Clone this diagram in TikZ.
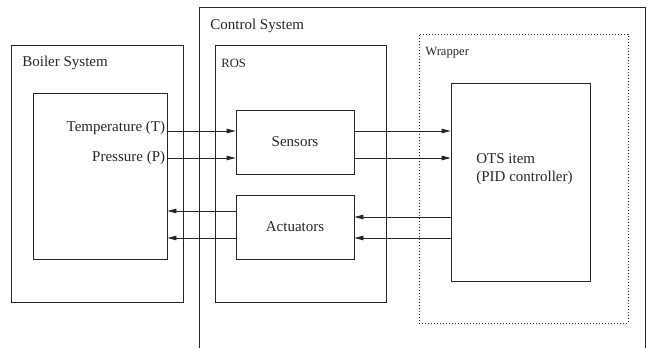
\documentclass[tikz,border=0pt]{standalone}
\usepackage{fontspec}
\setmainfont{Liberation Serif}
\usetikzlibrary{arrows.meta}

\tikzset{
  blk/.style={draw, inner sep=0pt},
  lbl/.style={inner sep=0pt, font=\fontsize{15}{17.5}\selectfont},
  smalllbl/.style={inner sep=0pt, font=\fontsize{12.6}{14}\selectfont},
  sig/.style={-{Triangle[length=9pt,width=4.5pt]}}
}

\begin{document}
\begin{tikzpicture}[x=1pt,y=-1pt,line width=0.8pt,color=black!85]
\useasboundingbox (0,0) rectangle (650,348);
% frame of the control system, open at the bottom
\draw (199,348) -- (199,7.5) -- (645,7.5) -- (645,348);
\node[lbl, anchor=base west] (ctrllbl) at (210,29) {Control System};

% boiler side
\node[blk, minimum width=172pt, minimum height=257pt] (boiler) at (97,173.5) {};
\node[lbl, anchor=base west] (boilerlbl) at (22,66.5) {Boiler System};
\node[blk, minimum width=134pt, minimum height=166pt] (plant) at (100,176) {};
\node[lbl, anchor=base east] (templbl) at (165.5,131) {Temperature (T)};
\node[lbl, anchor=base east] (preslbl) at (165.5,161.5) {Pressure (P)};

% ROS
\node[blk, minimum width=171pt, minimum height=257pt] (ros) at (300.5,173.5) {};
\node[smalllbl, anchor=base west] (roslbl) at (221,67) {ROS};
\node[blk, lbl, minimum width=118pt, minimum height=64pt] (sensors) at (295,142) {Sensors};
\node[blk, lbl, minimum width=118pt, minimum height=64pt] (actuators) at (295,227) {Actuators};

% wrapper with the OTS item
\node[draw, dash pattern=on 0.8pt off 2.2pt, inner sep=0pt,
      minimum width=209pt, minimum height=289pt] (wrapper) at (523.5,178.5) {};
\node[smalllbl, anchor=base west] (wraplbl) at (425,55) {Wrapper};
\node[blk, minimum width=139pt, minimum height=198pt] (ots) at (520.5,182) {};
\node[lbl, anchor=base west, align=left] (otslbl) at (476,181)
  {OTS item\\(PID controller)};

% signals
\coordinate (t0) at (plant.east |- 0,131);
\coordinate (p0) at (plant.east |- 0,158);
\draw[sig] (t0) -- (sensors.west |- t0);
\draw[sig] (p0) -- (sensors.west |- p0);
\draw[sig] (sensors.east |- t0) -- (ots.west |- t0);
\draw[sig] (sensors.east |- p0) -- (ots.west |- p0);
\coordinate (u1) at (ots.west |- 0,217);
\coordinate (u2) at (ots.west |- 0,238);
\draw[sig] (u1) -- (actuators.east |- u1);
\draw[sig] (u2) -- (actuators.east |- u2);
\coordinate (a1) at (actuators.west |- 0,211);
\draw[sig] (a1) -- (plant.east |- a1);
\draw[sig] (actuators.west |- u2) -- (plant.east |- u2);
\end{tikzpicture}
\end{document}
